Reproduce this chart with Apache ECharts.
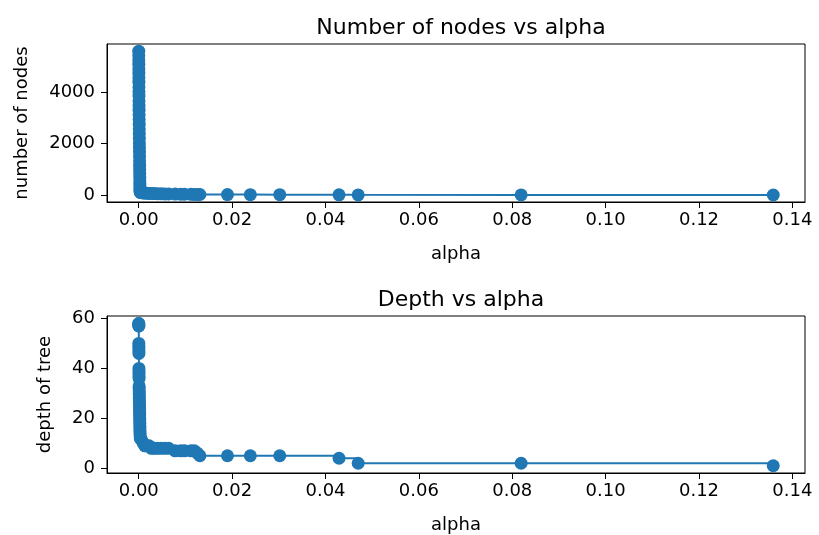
<!DOCTYPE html>
<html>
<head>
<meta charset="utf-8">
<script src="https://cdn.jsdelivr.net/npm/echarts@6/dist/echarts.min.js"></script>
<style>
  html, body { margin: 0; padding: 0; background: #fff; }
  #chart_1 { width: 819px; height: 535px; }
</style>
</head>
<body>
<div id="chart_1"></div>
<script>
var dom = document.getElementById("chart_1");
var myChart = echarts.init(dom);

// effective alphas of the pruned trees
var alphas = [
  0, 0.000005, 0.00001, 0.000015, 0.00002, 0.000025, 0.00003, 0.000035,
  0.00004, 0.000045, 0.00005, 0.000055, 0.00006, 0.00007, 0.00008, 0.00009,
  0.0001, 0.00011, 0.00012, 0.00013, 0.00014, 0.00015, 0.00016, 0.00017,
  0.00018, 0.00019, 0.0002, 0.00021, 0.00022, 0.00023, 0.00024, 0.00025,
  0.00026, 0.00028, 0.0003, 0.00033,
  0.0004, 0.0007, 0.0010, 0.0013, 0.0017, 0.0022, 0.0027, 0.0033,
  0.0040, 0.0048, 0.0056, 0.0064, 0.0078, 0.0090, 0.0098, 0.0112,
  0.0119, 0.0126, 0.0131, 0.0190, 0.0239, 0.0302, 0.0429, 0.0470,
  0.0819, 0.1359
];
var nodeCounts = [
  5599, 5431, 5263, 5095, 4921, 4745, 4571, 4395,
  4211, 4031, 3853, 3671, 3489, 3305, 3123, 2941,
  2757, 2575, 2393, 2211, 2031, 1853, 1677, 1503,
  1331, 1163, 997, 841, 691, 553, 431, 327,
  241, 179, 137, 109,
  97, 89, 83, 77, 71, 65, 61, 57,
  53, 49, 45, 41, 37, 33, 31, 27,
  25, 23, 21, 19, 17, 15, 11, 7,
  5, 3
];
var depths = [
  58, 58, 57, 57, 50, 49, 48, 47,
  46, 40, 39, 38, 37, 36, 33, 32,
  31, 30, 29, 28, 27, 26, 25, 24,
  23, 22, 21, 20, 19, 18, 17, 16,
  15, 14, 13, 12,
  12, 11, 10, 9, 9, 9, 8, 8,
  8, 8, 8, 8, 7, 7, 7, 7,
  7, 6, 5, 5, 5, 5, 4, 2,
  2, 1
];
var xTicks = [0, 0.02, 0.04, 0.06, 0.08, 0.10, 0.12, 0.14];
var nodeTicks = [0, 2000, 4000];
var depthTicks = [0, 20, 40, 60];

var blue = '#1f77b4';
var font = 'DejaVu Sans';

function pairs(ys) {
  return alphas.map(function (a, i) { return [a, ys[i]]; });
}

function xAxisFor(gridIndex) {
  return {
    type: 'value',
    gridIndex: gridIndex,
    min: -0.0068,
    max: 0.1427,
    name: 'alpha',
    nameLocation: 'middle',
    nameGap: 43,
    nameTextStyle: { color: '#000', fontSize: 18, fontFamily: font },
    axisLine: { show: true, onZero: false, lineStyle: { color: '#000', width: 1 } },
    axisTick: { show: true, length: 6, customValues: xTicks, lineStyle: { color: '#000' } },
    axisLabel: {
      color: '#000', fontSize: 18, fontFamily: font, margin: 9,
      customValues: xTicks,
      formatter: function (v) { return v.toFixed(2); }
    },
    splitLine: { show: false }
  };
}

function yAxisFor(gridIndex, min, max, ticks, name, gap) {
  return {
    type: 'value',
    gridIndex: gridIndex,
    min: min,
    max: max,
    name: name,
    nameLocation: 'middle',
    nameGap: gap,
    nameRotate: 90,
    nameTextStyle: { color: '#000', fontSize: 18, fontFamily: font },
    axisLine: { show: true, onZero: false, lineStyle: { color: '#000', width: 1 } },
    axisTick: { show: true, length: 6, customValues: ticks, lineStyle: { color: '#000' } },
    axisLabel: {
      color: '#000', fontSize: 18, fontFamily: font, margin: 12,
      customValues: ticks,
      formatter: function (v) { return String(v); }
    },
    splitLine: { show: false }
  };
}

function seriesFor(index, ys) {
  return {
    type: 'line',
    xAxisIndex: index,
    yAxisIndex: index,
    step: 'end',
    data: pairs(ys),
    symbol: 'circle',
    symbolSize: 13,
    showAllSymbol: true,
    lineStyle: { color: blue, width: 2 },
    itemStyle: { color: blue },
    clip: false
  };
}

var option = {
  backgroundColor: '#ffffff',
  animation: false,
  title: [
    {
      text: 'Number of nodes vs alpha',
      left: 456, top: 12, textAlign: 'center',
      textStyle: { color: '#000', fontSize: 22, fontWeight: 'normal', fontFamily: font }
    },
    {
      text: 'Depth vs alpha',
      left: 456, top: 284, textAlign: 'center',
      textStyle: { color: '#000', fontSize: 22, fontWeight: 'normal', fontFamily: font }
    }
  ],
  grid: [
    { left: 107, right: 14, top: 44, height: 158, show: true, borderColor: '#000', borderWidth: 1 },
    { left: 107, right: 14, top: 316, height: 157, show: true, borderColor: '#000', borderWidth: 1 }
  ],
  xAxis: [xAxisFor(0), xAxisFor(1)],
  yAxis: [
    yAxisFor(0, -270, 5880, nodeTicks, 'number of nodes', 76),
    yAxisFor(1, -1.9, 61, depthTicks, 'depth of tree', 53)
  ],
  series: [seriesFor(0, nodeCounts), seriesFor(1, depths)]
};

myChart.setOption(option, true);
</script>
</body>
</html>
